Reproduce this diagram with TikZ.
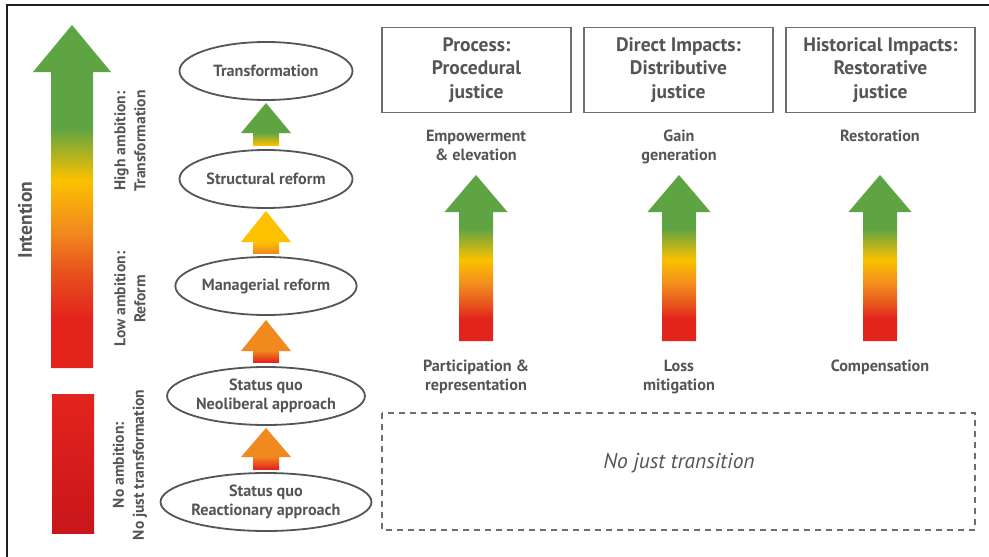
\documentclass[tikz,border=0pt]{standalone}
\usepackage{fontspec}
\setmainfont{PT Sans}
\usetikzlibrary{shapes.geometric}
\definecolor{txt}{RGB}{85,85,85}
\definecolor{cGreen}{RGB}{94,164,67}
\definecolor{cYellow}{RGB}{252,193,0}
\definecolor{cOrange}{RGB}{241,138,30}
\definecolor{cOrRed}{RGB}{232,81,30}
\definecolor{cRed}{RGB}{227,36,28}
\definecolor{cDRed}{RGB}{200,22,27}
\definecolor{ellc}{RGB}{85,85,85}
\definecolor{boxc}{RGB}{110,110,110}
\definecolor{framec}{RGB}{30,30,30}
\pgfdeclareverticalshading{bigshade}{100bp}{color(0bp)=(cRed); color(32.3bp)=(cRed); color(39bp)=(cOrRed); color(44.8bp)=(cOrange); color(52.4bp)=(cYellow); color(60bp)=(cGreen); color(100bp)=(cGreen)}
\pgfdeclareverticalshading{rshade}{100bp}{color(0bp)=(cRed); color(31.9bp)=(cRed); color(35.8bp)=(cOrRed); color(41.9bp)=(cOrange); color(49.4bp)=(cYellow); color(59bp)=(cGreen); color(100bp)=(cGreen)}
\newcommand\upblk[7]{%
  \shade[top color=#6,bottom color=#7] ({#1-13},{#3-0.5}) rectangle ({#1+13},#4);
  \fill[#5] ({#1-25},#3) -- (#1,#2) -- ({#1+25},#3) -- cycle;}
\begin{document}
\begin{tikzpicture}[x=1pt,y=-1pt,
  ell/.style={draw=ellc, line width=1.8pt, ellipse, minimum width=173pt, minimum height=58pt, inner sep=0pt, align=center, text=txt, font=\fontsize{16.2}{19}\selectfont\bfseries},
  hbox/.style={draw=boxc, line width=1.4pt, minimum width=189pt, minimum height=85pt, inner sep=0pt, align=center, text=txt, font=\fontsize{19.5}{23.5}\selectfont\bfseries},
  lbl/.style={align=center, text=txt, font=\fontsize{16.2}{19}\selectfont\bfseries, inner sep=0pt, anchor=base},
  side/.style={rotate=90, align=center, text=txt, font=\fontsize{15.6}{20}\selectfont\bfseries, inner sep=0pt},
]
\useasboundingbox[fill=white] (0,0) rectangle (989,557);
% frame
\draw[framec, line width=1.3pt] (7,557) -- (7,5) -- (989,5);
% big intention arrow
\shade[shading=bigshade] (51,368) -- (51,72) -- (33,72) -- (72,25) -- (111,72) -- (93,72) -- (93,368) -- cycle;
\shade[top color=cRed, bottom color=cDRed] (52,394) rectangle (94,533);
\node[text=txt, rotate=90, font=\fontsize{19.5}{22}\selectfont\bfseries, inner sep=0pt] (intent) at (25,220) {Intention};
% side labels
\node[side] (high) at (130,141) {High ambition:\\Transformation};
\node[side] (low) at (130,299) {Low ambition:\\Reform};
\node[side] (none) at (130,465) {No ambition:\\No just transformation};
% ellipses
\node[ell] (e1) at (266,71) {Transformation};
\node[ell] (e2) at (266,179) {Structural reform};
\node[ell] (e3) at (266,286) {Managerial reform};
\node[ell] (e4) at (266,396) {Status quo\\Neoliberal approach};
\node[ell] (e5) at (266,502) {Status quo\\Reactionary approach};
% small block arrows
\upblk{266}{103}{133}{145}{cGreen}{cGreen}{cYellow}
\upblk{266}{211}{242}{253}{cYellow}{cYellow}{cOrange}
\upblk{266}{320}{351}{362}{cOrange}{cOrange}{cRed}
\upblk{266}{428}{457}{469}{cOrange}{cOrange}{cRed}
% header boxes
\node[hbox] (b1) at (476.5,70) {Process:\\Procedural\\justice};
\node[hbox] (b2) at (678.5,70) {Direct Impacts:\\Distributive\\justice};
\node[hbox] (b3) at (880.5,70) {Historical Impacts:\\Restorative\\justice};
% upper labels (base = baseline of last line)
\node[lbl] (u1) at (476,160) {Empowerment\\\& elevation};
\node[lbl] (u2) at (679,160) {Gain\\generation};
\node[lbl] (u3) at (880,141) {Restoration};
% right arrows
\foreach \cx in {476,679,880}
  \shade[shading=rshade] ({\cx-17},341) -- ({\cx-17},212) -- ({\cx-31.5},212) -- (\cx,175) -- ({\cx+31.5},212) -- ({\cx+17},212) -- ({\cx+17},341) -- cycle;
% lower labels
\node[lbl] (l1) at (476,390) {Participation \&\\representation};
\node[lbl] (l2) at (679,390) {Loss\\mitigation};
\node[lbl] (l3) at (880,371) {Compensation};
% dashed box
\draw[boxc, line width=1.8pt, dash pattern=on 6pt off 5pt] (382,413) rectangle (975,530);
\node[text=txt, font=\fontsize{21.5}{24}\selectfont\itshape, inner sep=0pt] (nj) at (679,463) {No just transition};
\end{tikzpicture}
\end{document}
